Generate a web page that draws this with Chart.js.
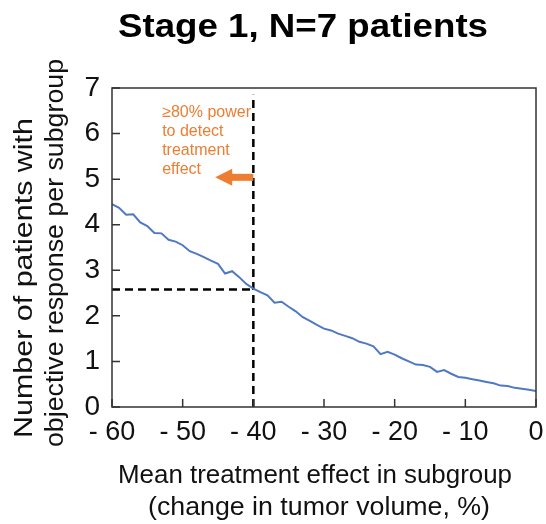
<!DOCTYPE html>
<html>
<head>
<meta charset="utf-8">
<script src="https://cdn.jsdelivr.net/npm/chart.js@4.4.1/dist/chart.umd.min.js"></script>
<style>
  html, body { margin: 0; padding: 0; background: #fff; }
  #wrap { width: 546px; height: 524px; }
</style>
</head>
<body>
<div id="wrap"><canvas id="mainChart" width="546" height="524"></canvas></div>
<script>
// mean treatment effect (% change in tumor volume)
const effectX = [-60, -59, -58, -57, -56, -55, -54, -53, -52, -51, -50, -49, -48, -47, -46, -45, -44, -43, -42, -41,
                 -40, -39, -38, -37, -36, -35, -34, -33, -32, -31, -30, -29, -28, -27, -26, -25, -24, -23, -22, -21,
                 -20, -19, -18, -17, -16, -15, -14, -13, -12, -11, -10, -9, -8, -7, -6, -5, -4, -3, -2, -1, 0];
// patients with objective response per subgroup
const responders = [4.45, 4.37, 4.22, 4.23, 4.05, 3.97, 3.82, 3.81, 3.67, 3.63, 3.55, 3.42, 3.36, 3.29, 3.21, 3.14, 2.93, 2.98, 2.85, 2.70,
                    2.60, 2.52, 2.45, 2.29, 2.31, 2.20, 2.10, 1.97, 1.89, 1.80, 1.72, 1.68, 1.61, 1.56, 1.51, 1.43, 1.39, 1.33, 1.16, 1.21,
                    1.15, 1.07, 1.00, 0.93, 0.92, 0.88, 0.77, 0.81, 0.73, 0.66, 0.64, 0.61, 0.58, 0.55, 0.52, 0.47, 0.46, 0.42, 0.40, 0.38, 0.35];
const xTicks = [-60, -50, -40, -30, -20, -10, 0];
const yTicks = [0, 1, 2, 3, 4, 5, 6, 7];

// 80% power threshold
const thresholdEffect = -40;
const thresholdCount = 2.58;
const vLineTop = 6.85;
const noteLines = ["\u226580% power", "to detect", "treatment", "effect"];
const arrowFrom = -40, arrowTo = -45.4, arrowAt = 5.04;
const noteX = -52.9, noteY = 6.47;

const FONT = "'Liberation Sans', Arial, sans-serif";
const ORANGE = "#ED7D31";

function pts(xs, ys) {
    return xs.map((x, i) => ({x: x, y: ys[i]}));
}

// draw text centred on cx, stretched to the given width
function fitText(ctx, text, cx, y, w) {
    const k = w / ctx.measureText(text).width;
    ctx.save();
    ctx.translate(cx, y);
    ctx.scale(k, 1);
    ctx.textAlign = "center";
    ctx.fillText(text, 0, 0);
    ctx.restore();
}

const extras = {
    id: 'extras',
    afterDraw(chart) {
        const ctx = chart.ctx;
        const a = chart.chartArea;
        const sx = chart.scales.x, sy = chart.scales.y;
        ctx.save();
        // frame
        ctx.strokeStyle = "#333";
        ctx.lineWidth = 1.5;
        ctx.strokeRect(a.left, a.top, a.right - a.left, a.bottom - a.top);
        // inward ticks
        ctx.beginPath();
        xTicks.forEach(v => {
            const px = sx.getPixelForValue(v);
            ctx.moveTo(px, a.bottom);
            ctx.lineTo(px, a.bottom - 8);
        });
        yTicks.forEach(v => {
            const py = sy.getPixelForValue(v);
            ctx.moveTo(a.left, py);
            ctx.lineTo(a.left + 8, py);
        });
        ctx.stroke();

        // title
        ctx.fillStyle = "#000";
        ctx.textBaseline = "alphabetic";
        ctx.font = "bold 33px " + FONT;
        fitText(ctx, "Stage 1, N=7 patients", 303, 37, 370);

        // x axis title
        ctx.fillStyle = "#111";
        ctx.font = "26px " + FONT;
        fitText(ctx, "Mean treatment effect in subgroup", 315, 483, 394);
        fitText(ctx, "(change in tumor volume, %)", 319, 515, 342);

        // y axis title
        ctx.save();
        ctx.rotate(-Math.PI / 2);
        ctx.font = "25.5px " + FONT;
        fitText(ctx, "Number of patients with", -278, 32, 320);
        fitText(ctx, "objective response per subgroup", -253, 63, 388);
        ctx.restore();

        // note
        ctx.fillStyle = ORANGE;
        ctx.textAlign = "left";
        ctx.textBaseline = "middle";
        ctx.font = "16px " + FONT;
        const nx = sx.getPixelForValue(noteX);
        let ny = sy.getPixelForValue(noteY);
        noteLines.forEach((t, i) => ctx.fillText(t, nx, ny + i * 19));

        // arrow
        const x0 = sx.getPixelForValue(arrowFrom);
        const x1 = sx.getPixelForValue(arrowTo);
        const ay = sy.getPixelForValue(arrowAt);
        ctx.fillStyle = ORANGE;
        ctx.fillRect(x1 + 16, ay - 3.5, x0 - x1 - 16, 7);
        ctx.beginPath();
        ctx.moveTo(x1, ay);
        ctx.lineTo(x1 + 17, ay - 8.5);
        ctx.lineTo(x1 + 17, ay + 8.5);
        ctx.closePath();
        ctx.fill();
        ctx.restore();
    }
};

new Chart(document.getElementById("mainChart"), {
    type: 'line',
    data: {
        datasets: [{
            data: pts(effectX, responders),
            borderColor: "#4F79C2",
            borderWidth: 2,
            pointRadius: 0,
            tension: 0
        }, {
            data: pts([thresholdEffect, thresholdEffect], [0, vLineTop]),
            borderColor: "#000",
            borderWidth: 2.5,
            borderDash: [8, 5],
            pointRadius: 0
        }, {
            data: pts([effectX[0], thresholdEffect], [thresholdCount, thresholdCount]),
            borderColor: "#000",
            borderWidth: 2.5,
            borderDash: [8, 5],
            pointRadius: 0
        }]
    },
    options: {
        responsive: false,
        animation: false,
        layout: { padding: { top: 88, right: 10, left: 0, bottom: 0 } },
        plugins: {
            legend: { display: false },
            tooltip: { enabled: false }
        },
        scales: {
            x: {
                type: 'linear',
                min: -60,
                max: 0,
                grid: { display: false, drawTicks: false },
                border: { display: false },
                afterFit: s => { s.height = 117; s.paddingRight = 0; s.paddingLeft = 0; },
                afterBuildTicks: s => { s.ticks = xTicks.map(v => ({value: v})); },
                ticks: {
                    color: "#111",
                    padding: 9,
                    maxRotation: 0,
                    font: { family: FONT, size: 27 },
                    callback: v => v < 0 ? "- " + Math.abs(v) : String(v)
                }
            },
            y: {
                min: 0,
                max: 7,
                grid: { display: false, drawTicks: false },
                border: { display: false },
                afterFit: s => { s.width = 112; },
                afterBuildTicks: s => { s.ticks = yTicks.map(v => ({value: v})); },
                ticks: {
                    color: "#111",
                    padding: 12,
                    font: { family: FONT, size: 28 }
                }
            }
        }
    },
    plugins: [extras]
});
</script>
</body>
</html>
